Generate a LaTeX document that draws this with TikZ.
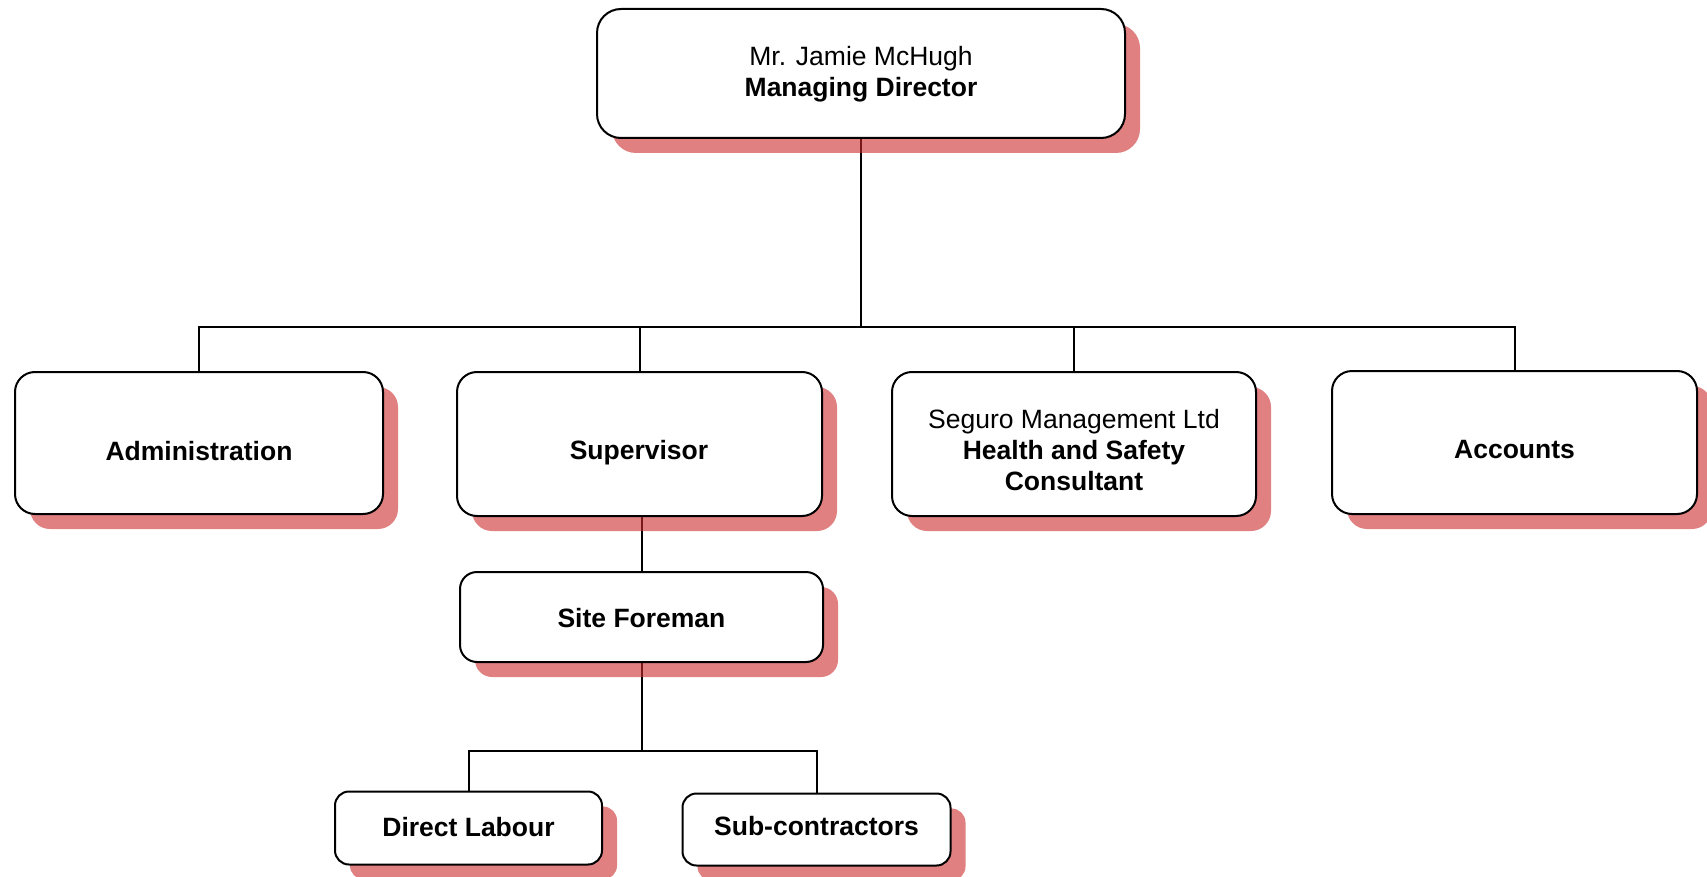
\documentclass[tikz,border=0pt]{standalone}
\usepackage{fontspec}
\setmainfont{Liberation Sans}
\usetikzlibrary{shadows,backgrounds}
\definecolor{shadowred}{RGB}{203,43,43}
\tikzset{
  orgbox/.style={draw=black, line width=2pt, fill=white, inner sep=0pt,
    rounded corners=#1,
    drop shadow={shadow xshift=15pt, shadow yshift=-15pt, fill=shadowred, opacity=0.6}},
  orgbox/.default=20pt,
  txt/.style={font=\fontsize{26.5}{31}\selectfont, inner sep=0pt, align=center},
  conn/.style={draw=black, line width=2pt}
}
\begin{document}
\begin{tikzpicture}[x=1pt,y=-1pt]
\useasboundingbox (0,0) rectangle (1707,877);

% boxes
\node[orgbox=24pt, minimum width=528pt, minimum height=129pt] (top) at (861,73.5) {};
\node[orgbox, minimum width=368pt, minimum height=142pt] (admin) at (199,443) {};
\node[orgbox, minimum width=365pt, minimum height=144pt] (sup) at (639.5,444) {};
\node[orgbox, minimum width=364pt, minimum height=144pt] (seg) at (1074,444) {};
\node[orgbox, minimum width=365pt, minimum height=143pt] (acc) at (1514.5,442.5) {};
\node[orgbox=17pt, minimum width=363pt, minimum height=90pt] (fore) at (641.5,617) {};
\node[orgbox=14pt, minimum width=267pt, minimum height=73pt] (dl) at (468.5,828) {};
\node[orgbox=14pt, minimum width=268pt, minimum height=72pt] (sub) at (816.5,829.5) {};

% texts
\node[txt, anchor=north] (topT) at (861,46.2) {Mr. Jamie McHugh\\\bfseries Managing Director};
\node[txt, anchor=base] (adminT) at (199,460) {\bfseries Administration};
\node[txt, anchor=base] (supT) at (639,459) {\bfseries Supervisor};
\node[txt, anchor=north] (segT) at (1074,409.2) {Seguro Management Ltd\\\bfseries Health and Safety\\\bfseries Consultant};
\node[txt, anchor=base] (accT) at (1514.5,458) {\bfseries Accounts};
\node[txt, anchor=base] (foreT) at (641.5,627) {\bfseries Site Foreman};
\node[txt, anchor=base] (dlT) at (468.5,836) {\bfseries Direct Labour};
\node[txt, anchor=base] (subT) at (816.5,835) {\bfseries Sub-contractors};

\coordinate (bus) at (0,327);
\coordinate (bus2) at (0,751);

% connectors (behind the shadows)
\begin{scope}[on background layer]
\draw[conn] (top.south) -- (top.south |- bus);
\draw[conn] (admin.north) |- (acc.north |- bus) -- (acc.north);
\draw[conn] (sup.north) -- (sup.north |- bus);
\draw[conn] (seg.north) -- (seg.north |- bus);
\draw[conn] (fore.north |- sup.south) -- (fore.north);
\draw[conn] (fore.south) -- (fore.south |- bus2);
\draw[conn] (dl.north) |- (sub.north |- bus2) -- (sub.north);
\end{scope}
\end{tikzpicture}
\end{document}
